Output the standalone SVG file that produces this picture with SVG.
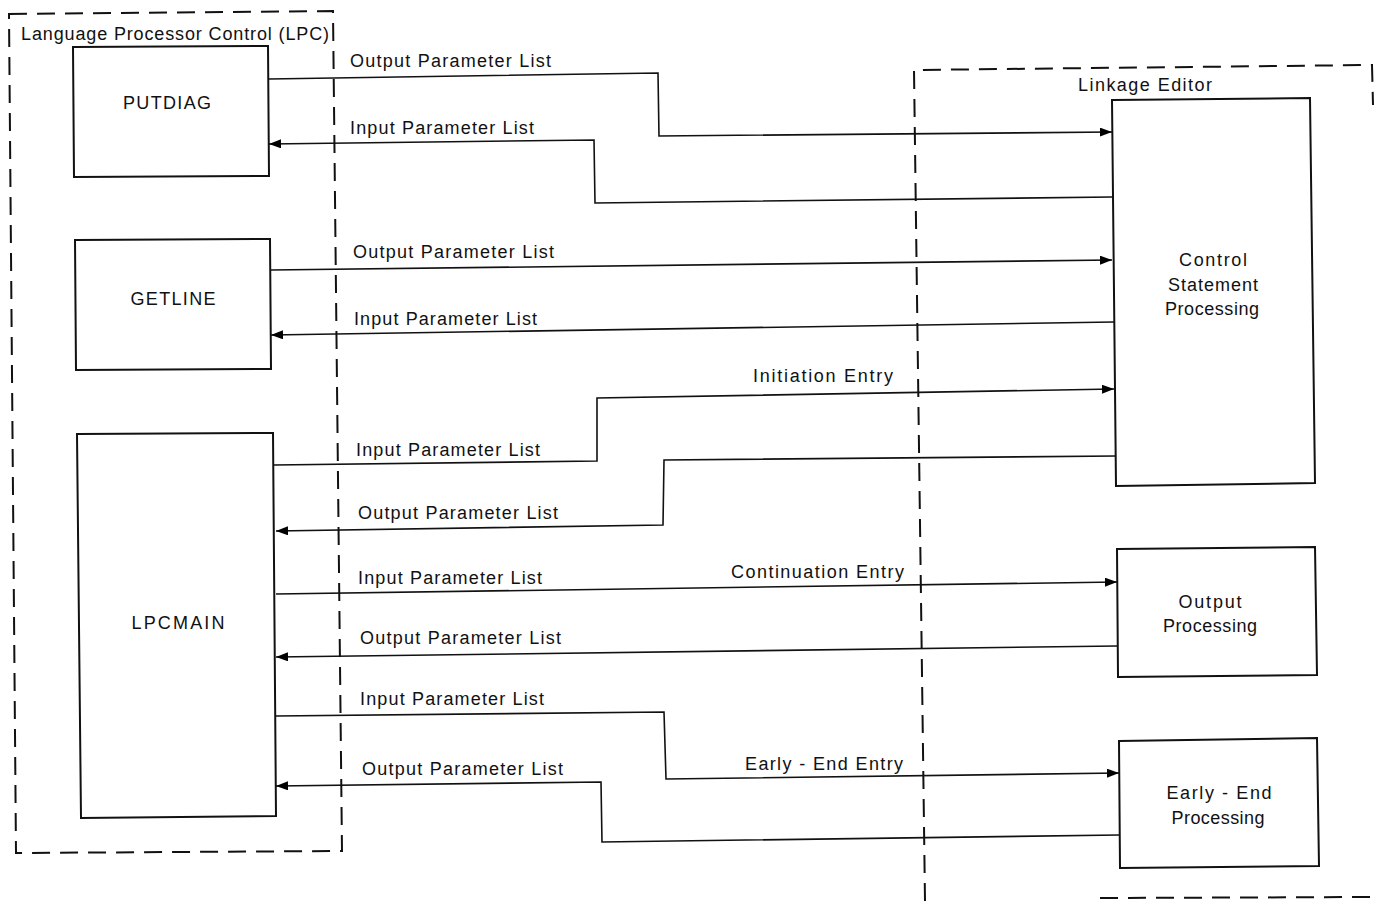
<svg xmlns="http://www.w3.org/2000/svg" width="1375" height="901" viewBox="0 0 1375 901">
<defs>
<marker id="arr" viewBox="0 0 12 9" refX="12" refY="4.5" markerWidth="12" markerHeight="9" markerUnits="userSpaceOnUse" orient="auto">
<path d="M0,0 L12,4.5 L0,9 z" fill="#000"/>
</marker>
<style>
text{font-family:"Liberation Sans",Arial,sans-serif;font-size:18px;fill:#111;lengthAdjust:spacing}
.box{fill:#fff;stroke:#111;stroke-width:2}
.dash{fill:none;stroke:#111;stroke-width:2;stroke-dasharray:18 10}
.con{fill:none;stroke:#111;stroke-width:1.6;marker-end:url(#arr)}
.mid{text-anchor:middle}
</style>
</defs>
<rect width="1375" height="901" fill="#fff"/>
<g id="lpc-boundary">
<path class="dash" d="M9,14 L333,11 L342,851 L16,853 Z"/>
<text x="21" y="40" textLength="308" lengthAdjust="spacing">Language Processor Control (LPC)</text>
</g>
<g id="linkage-boundary">
<path class="dash" d="M925,901 L914,70 L1372,65 L1373,105"/>
<path class="dash" d="M1100,898 L1375,897"/>
<text x="1078" y="91" textLength="134" lengthAdjust="spacing">Linkage Editor</text>
</g>
<g id="putdiag">
<path class="box" d="M73,47 L268,46 L269,176 L74,177 Z"/>
<text x="167" y="109" class="mid" textLength="88" lengthAdjust="spacing">PUTDIAG</text>
</g>
<g id="getline">
<path class="box" d="M75,240 L270,239 L271,369 L76,370 Z"/>
<text x="173" y="305" class="mid" textLength="85" lengthAdjust="spacing">GETLINE</text>
</g>
<g id="lpcmain">
<path class="box" d="M77,434 L273,433 L276,816 L81,818 Z"/>
<text x="178" y="629" class="mid" textLength="93" lengthAdjust="spacing">LPCMAIN</text>
</g>
<g id="control-statement-processing">
<path class="box" d="M1112,100 L1310,98 L1315,483 L1116,486 Z"/>
<text x="1213" y="266" class="mid" textLength="68" lengthAdjust="spacing">Control</text>
<text x="1213" y="291" class="mid" textLength="90" lengthAdjust="spacing">Statement</text>
<text x="1212" y="315" class="mid" textLength="94" lengthAdjust="spacing">Processing</text>
</g>
<g id="output-processing">
<path class="box" d="M1117,549 L1315,547 L1317,675 L1118,677 Z"/>
<text x="1210" y="608" class="mid" textLength="63" lengthAdjust="spacing">Output</text>
<text x="1210" y="632" class="mid" textLength="94" lengthAdjust="spacing">Processing</text>
</g>
<g id="early-end-processing">
<path class="box" d="M1119,741 L1317,738 L1319,866 L1120,868 Z"/>
<text x="1219" y="799" class="mid" textLength="105" lengthAdjust="spacing">Early - End</text>
<text x="1218" y="824" class="mid" textLength="93" lengthAdjust="spacing">Processing</text>
</g>
<g id="connectors">
<polyline class="con" points="269,79 658,73 659,136 1112,132"/>
<polyline class="con" points="1112,197 595,203 594,140 269,144"/>
<polyline class="con" points="271,270 1112,260"/>
<polyline class="con" points="1114,322 271,335"/>
<polyline class="con" points="274,465 597,461 597,398 1114,389"/>
<polyline class="con" points="1116,456 664,460 663,525 276,531"/>
<polyline class="con" points="276,594 1117,582"/>
<polyline class="con" points="1117,646 276,657"/>
<polyline class="con" points="276,716 664,712 666,779 1119,773"/>
<polyline class="con" points="1119,835 602,842 601,782 276,786"/>
</g>
<g id="connector-labels">
<text x="350" y="67" textLength="201" lengthAdjust="spacing">Output Parameter List</text>
<text x="350" y="134" textLength="184" lengthAdjust="spacing">Input Parameter List</text>
<text x="353" y="258" textLength="201" lengthAdjust="spacing">Output Parameter List</text>
<text x="354" y="325" textLength="183" lengthAdjust="spacing">Input Parameter List</text>
<text x="753" y="382" textLength="140" lengthAdjust="spacing">Initiation Entry</text>
<text x="356" y="456" textLength="184" lengthAdjust="spacing">Input Parameter List</text>
<text x="358" y="519" textLength="200" lengthAdjust="spacing">Output Parameter List</text>
<text x="358" y="584" textLength="184" lengthAdjust="spacing">Input Parameter List</text>
<text x="731" y="578" textLength="173" lengthAdjust="spacing">Continuation Entry</text>
<text x="360" y="644" textLength="201" lengthAdjust="spacing">Output Parameter List</text>
<text x="360" y="705" textLength="184" lengthAdjust="spacing">Input Parameter List</text>
<text x="745" y="770" textLength="158" lengthAdjust="spacing">Early - End Entry</text>
<text x="362" y="775" textLength="201" lengthAdjust="spacing">Output Parameter List</text>
</g>
</svg>
